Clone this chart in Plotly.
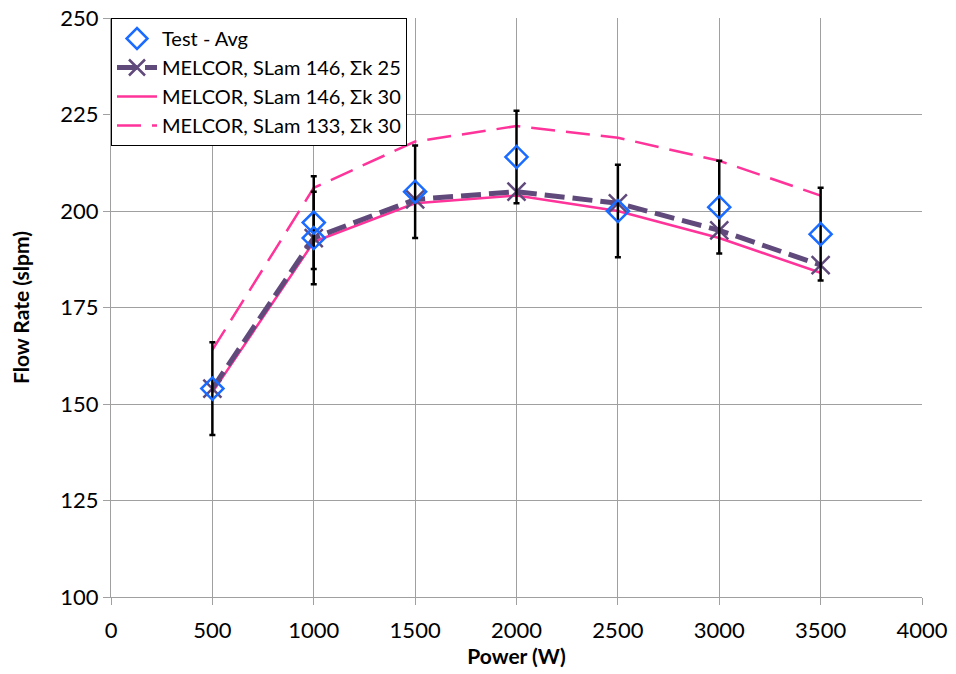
import plotly.graph_objects as go

power_test = [500, 1000, 1000, 1500, 2000, 2500, 3000, 3500]
flow_test = [154, 197, 193, 205, 214, 200, 201, 194]
err_test = [12, 12, 12, 12, 12, 12, 12, 12]

power = [500, 1000, 1500, 2000, 2500, 3000, 3500]
mel_146_25 = [154, 193, 203, 205, 202, 195, 186]
mel_146_30 = [153, 192, 202, 204, 200, 193, 184]
mel_133_30 = [164, 206, 218, 222, 219, 213, 204]

font_family = "Lato, 'Open Sans', sans-serif"

fig = go.Figure()
fig.add_trace(go.Scatter(
    x=power, y=mel_133_30, mode="lines", name="MELCOR, SLam 133, Σk 30",
    line=dict(color="#FF3399", width=2.5, dash="24px,11px")))
fig.add_trace(go.Scatter(
    x=power, y=mel_146_30, mode="lines", name="MELCOR, SLam 146, Σk 30",
    line=dict(color="#FF3399", width=2.5)))
fig.add_trace(go.Scatter(
    x=power, y=mel_146_25, mode="lines+markers", name="MELCOR, SLam 146, Σk 25",
    line=dict(color="#604A7B", width=5, dash="20px,8px"),
    marker=dict(symbol="x-thin", size=18, line=dict(color="#604A7B", width=2.5))))
fig.add_trace(go.Scatter(
    x=power_test, y=flow_test, mode="markers", name="Test - Avg",
    marker=dict(symbol="diamond-open", size=17, color="#1A6BFF", line=dict(width=2.5)),
    error_y=dict(type="data", array=err_test, visible=True, color="black", thickness=2.5, width=3)))

fig.update_layout(
    width=956, height=674,
    margin=dict(l=111, r=34, t=18, b=77),
    paper_bgcolor="white", plot_bgcolor="white",
    font=dict(family=font_family, color="black"),
    showlegend=True,
    legend=dict(x=0, y=1, xanchor="left", yanchor="top", traceorder="reversed",
                bgcolor="white", bordercolor="black", borderwidth=1,
                font=dict(size=20, family=font_family), itemwidth=40,
                tracegroupgap=0),
    xaxis=dict(range=[0, 4000], dtick=500, showgrid=True, gridcolor="#A0A0A0", gridwidth=1,
               showline=True, linecolor="#A0A0A0", ticks="outside", ticklen=7, tickcolor="#A0A0A0",
               tickfont=dict(size=22), zeroline=False, automargin=False, ticklabelstandoff=7,
               title=dict(text="<b>Power (W)</b>", font=dict(size=21), standoff=4)),
    yaxis=dict(range=[100, 250], dtick=25, showgrid=True, gridcolor="#A0A0A0", gridwidth=1,
               showline=True, linecolor="#A0A0A0", ticks="outside", ticklen=7, tickcolor="#A0A0A0",
               tickfont=dict(size=22), zeroline=False, automargin=False,
               title=dict(text="<b>Flow Rate (slpm)</b>", font=dict(size=21), standoff=24)),
)

fig.write_html("out.html")
